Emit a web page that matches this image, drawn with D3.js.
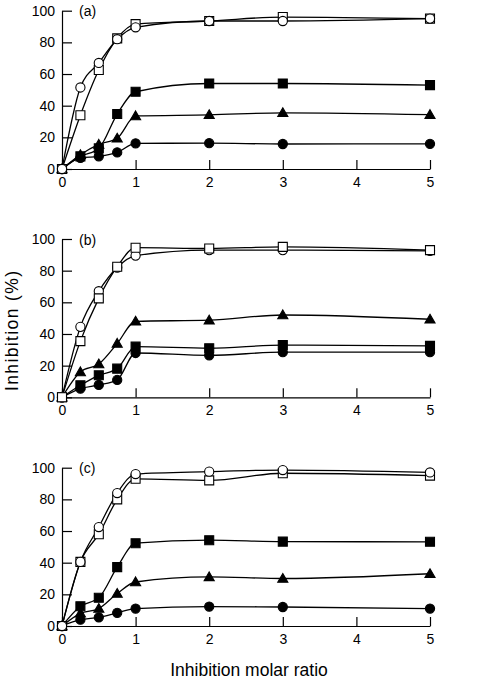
<!DOCTYPE html>
<html>
<head>
<meta charset="utf-8">
<script src="https://cdn.jsdelivr.net/npm/d3@7"></script>
<style>
  html, body { margin: 0; padding: 0; background: #fff; }
  svg { display: block; font-family: "Liberation Sans", Arial, Helvetica, sans-serif; }
</style>
</head>
<body>
<svg id="chart" width="502" height="680"></svg>
<script>
// ---- data ----
const ratios = [0, 0.25, 0.5, 0.75, 1, 2, 3, 5];
const xTicks = [0, 1, 2, 3, 4, 5];
const yTicks = [0, 20, 40, 60, 80, 100];
const panelLabels = ["(a)", "(b)", "(c)"];
const xTitle = "Inhibition molar ratio";
const yTitle = "Inhibition (%)";

// panel (a)
const aOpenCircle   = [0, 51.5, 67, 82, 89.5, 93.5, 93.5, 95];
const aOpenSquare   = [0, 34, 62.5, 82.5, 91.5, 93.5, 96, 95];
const aFilledSquare = [0, 8, 13, 34.7, 48.8, 54, 54, 53];
const aTriangle     = [0, 9, 15.5, 19.4, 33.5, 34.2, 35.5, 34.3];
const aFilledCircle = [0, 7, 8, 10.5, 16.2, 16.3, 15.8, 15.9];

// panel (b)
const bOpenCircle   = [0, 44.5, 67, 82, 89.5, 93, 93, 92.5];
const bOpenSquare   = [0, 35.5, 62.5, 82.5, 94.5, 94, 95, 93];
const bTriangle     = [0, 16, 21, 34, 48, 48.7, 52, 49.3];
const bFilledSquare = [0, 7.6, 13.9, 18.1, 32, 31, 33, 32.5];
const bFilledCircle = [0, 5.5, 7.8, 11, 28, 26.5, 28.5, 28.5];

// panel (c)
const cOpenCircle   = [0, 40.5, 62.5, 84, 96, 97.5, 98.5, 97];
const cOpenSquare   = [0, 40.5, 58, 80, 93, 92, 96.5, 95];
const cFilledSquare = [0, 12.5, 17.8, 37.2, 52.3, 54.2, 53.3, 53.2];
const cTriangle     = [0, 8, 11, 20.5, 27.8, 31, 30, 33];
const cFilledCircle = [0, 4, 5.5, 8.3, 11, 12.3, 12, 11];

const panels = [
  { label: panelLabels[0], series: [
    { v: aFilledCircle, shape: "circle", fill: true },
    { v: aTriangle, shape: "triangle", fill: true },
    { v: aFilledSquare, shape: "square", fill: true },
    { v: aOpenSquare, shape: "square", fill: false },
    { v: aOpenCircle, shape: "circle", fill: false } ] },
  { label: panelLabels[1], series: [
    { v: bFilledCircle, shape: "circle", fill: true },
    { v: bFilledSquare, shape: "square", fill: true },
    { v: bTriangle, shape: "triangle", fill: true },
    { v: bOpenCircle, shape: "circle", fill: false },
    { v: bOpenSquare, shape: "square", fill: false } ] },
  { label: panelLabels[2], series: [
    { v: cFilledCircle, shape: "circle", fill: true },
    { v: cTriangle, shape: "triangle", fill: true },
    { v: cFilledSquare, shape: "square", fill: true },
    { v: cOpenSquare, shape: "square", fill: false },
    { v: cOpenCircle, shape: "circle", fill: false } ] }
];

// ---- layout ----
const svg = d3.select("#chart");
const xLeft = 62, xRight = 430;
const panelTops = [10.7, 239, 467.7];
const panelH = 158.3;

const x = d3.scaleLinear().domain([0, 5]).range([xLeft, xRight]);

const symbolFor = {
  circle: d3.symbol().type(d3.symbolCircle).size(Math.PI * 4.6 * 4.6),
  square: d3.symbol().type(d3.symbolSquare).size(9 * 9),
  triangle: d3.symbol().type(d3.symbolTriangle).size(44)
};

panels.forEach((p, i) => {
  const top = panelTops[i];
  const y = d3.scaleLinear().domain([0, 100]).range([top + panelH, top]);
  const g = svg.append("g");

  // axes
  const yAxis = d3.axisLeft(y).tickValues(yTicks).tickFormat(d3.format("d"))
    .tickSizeInner(-10).tickSizeOuter(0).tickPadding(7);
  const xAxis = d3.axisBottom(x).tickValues(xTicks).tickFormat(d3.format("d"))
    .tickSizeInner(-9).tickSizeOuter(0).tickPadding(8);

  const ga = g.append("g").attr("transform", `translate(${xLeft},0)`).call(yAxis);
  const gx = g.append("g").attr("transform", `translate(0,${top + panelH})`).call(xAxis);
  [ga, gx].forEach(s => {
    s.selectAll("path, line").attr("stroke", "#000").attr("stroke-width", 1.2);
    s.selectAll("text").attr("font-size", 14).attr("fill", "#000")
      .attr("font-family", "'Liberation Sans', Arial, sans-serif");
  });

  // panel label
  g.append("text").attr("x", 79).attr("y", top + 5.5)
    .attr("font-size", 14).attr("fill", "#000").text(p.label);

  const line = d3.line()
    .x((d, j) => x(ratios[j]))
    .y(d => y(d))
    .curve(d3.curveMonotoneX);

  p.series.forEach(s => {
    g.append("path").attr("d", line(s.v))
      .attr("fill", "none").attr("stroke", "#000").attr("stroke-width", 1.3);
  });
  p.series.forEach(s => {
    g.selectAll(null).data(s.v).enter().append("path")
      .attr("transform", (d, j) => `translate(${x(ratios[j])},${y(d) + (s.shape === "triangle" ? 0.8 : 0)})`)
      .attr("d", symbolFor[s.shape]())
      .attr("fill", s.fill ? "#000" : "#fff")
      .attr("stroke", "#000").attr("stroke-width", 1.1);
  });
});

// axis titles
svg.append("text").attr("x", 249).attr("y", 676).attr("text-anchor", "middle")
  .attr("font-size", 17.5).attr("fill", "#000").text(xTitle);
svg.append("text").attr("transform", "translate(18,331) rotate(-90)")
  .attr("text-anchor", "middle").attr("font-size", 17.5).attr("fill", "#000")
  .attr("textLength", 120).attr("lengthAdjust", "spacing").text(yTitle);
</script>
</body>
</html>
